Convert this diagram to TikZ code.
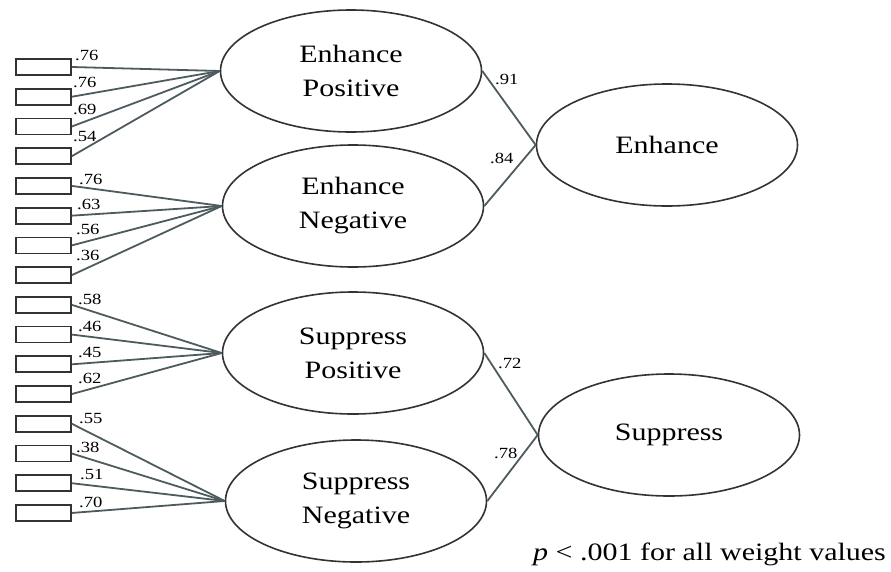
\documentclass[tikz,border=0pt]{standalone}
\usepackage{fontspec}
\setmainfont{Liberation Serif}[FakeStretch=1.2]
\usetikzlibrary{shapes.geometric}
\definecolor{edgecol}{HTML}{4D5A5E}
\definecolor{inkcol}{HTML}{333333}
\begin{document}
\begin{tikzpicture}[x=1pt,y=-1pt,
  item/.style={draw=inkcol,line width=1.7pt,minimum width=55pt,minimum height=16pt,inner sep=0pt},
  factor/.style={draw=inkcol,line width=1.6pt,ellipse,minimum width=261pt,minimum height=122pt,inner sep=0pt,
    align=center,font=\fontsize{25}{34}\selectfont},
  link/.style={draw=edgecol,line width=1.8pt},
  wt/.style={anchor=base west,inner sep=0pt,font=\fontsize{15.5}{18}\selectfont}]
\useasboundingbox (0,0) rectangle (891,571);

% indicator boxes
\foreach \i in {1,...,16} {
  \node[item] (i\i) at (43.5,{67+29.73*(\i-1)}) {};
}

% first-order factors
\node[factor] (EP) at (351,71)  {Enhance\\Positive};
\node[factor] (EN) at (353,206) {Enhance\\Negative};
\node[factor] (SP) at (353,353) {Suppress\\Positive};
\node[factor] (SN) at (356,501) {Suppress\\Negative};

% second-order factors
\node[factor] (E) at (667,145) {Enhance};
\node[factor] (S) at (669,435) {Suppress};

% loadings of the indicators
\foreach \i in {1,...,4}   {\draw[link] (i\i.east) -- (EP.west);}
\foreach \i in {5,...,8}   {\draw[link] (i\i.east) -- (EN.west);}
\foreach \i in {9,...,12}  {\draw[link] (i\i.east) -- (SP.west);}
\foreach \i in {13,...,16} {\draw[link] (i\i.east) -- (SN.west);}

% second-order paths
\draw[link] (EP.east) -- (E.west);
\draw[link] (EN.east) -- (E.west);
\draw[link] (SP.east) -- (S.west);
\draw[link] (SN.east) -- (S.west);

% weight labels
\node[wt] (w1)  at (75,60.7)  {.76};
\node[wt] (w2)  at (73,87.3)  {.76};
\node[wt] (w3)  at (73,114)   {.69};
\node[wt] (w4)  at (73,141)   {.54};
\node[wt] (w5)  at (79,184.3) {.76};
\node[wt] (w6)  at (77,209.3) {.63};
\node[wt] (w7)  at (76,234)   {.56};
\node[wt] (w8)  at (76,260.7) {.36};
\node[wt] (w9)  at (78,304)   {.58};
\node[wt] (w10) at (78,331)   {.46};
\node[wt] (w11) at (78,357.3) {.45};
\node[wt] (w12) at (78,383.3) {.62};
\node[wt] (w13) at (79,423.3) {.55};
\node[wt] (w14) at (76,452.3) {.38};
\node[wt] (w15) at (80,479.3) {.51};
\node[wt] (w16) at (79,507.3) {.70};

\node[wt] (wE1) at (495,84)  {.91};
\node[wt] (wE2) at (490,163) {.84};
\node[wt] (wS1) at (498,368) {.72};
\node[wt] (wS2) at (494,458) {.78};

% footnote
\node[anchor=base west,inner sep=0pt,font=\fontsize{25}{30}\selectfont] (note) at (533,560)
  {\textit{p} < .001 for all weight values};
\end{tikzpicture}
\end{document}
